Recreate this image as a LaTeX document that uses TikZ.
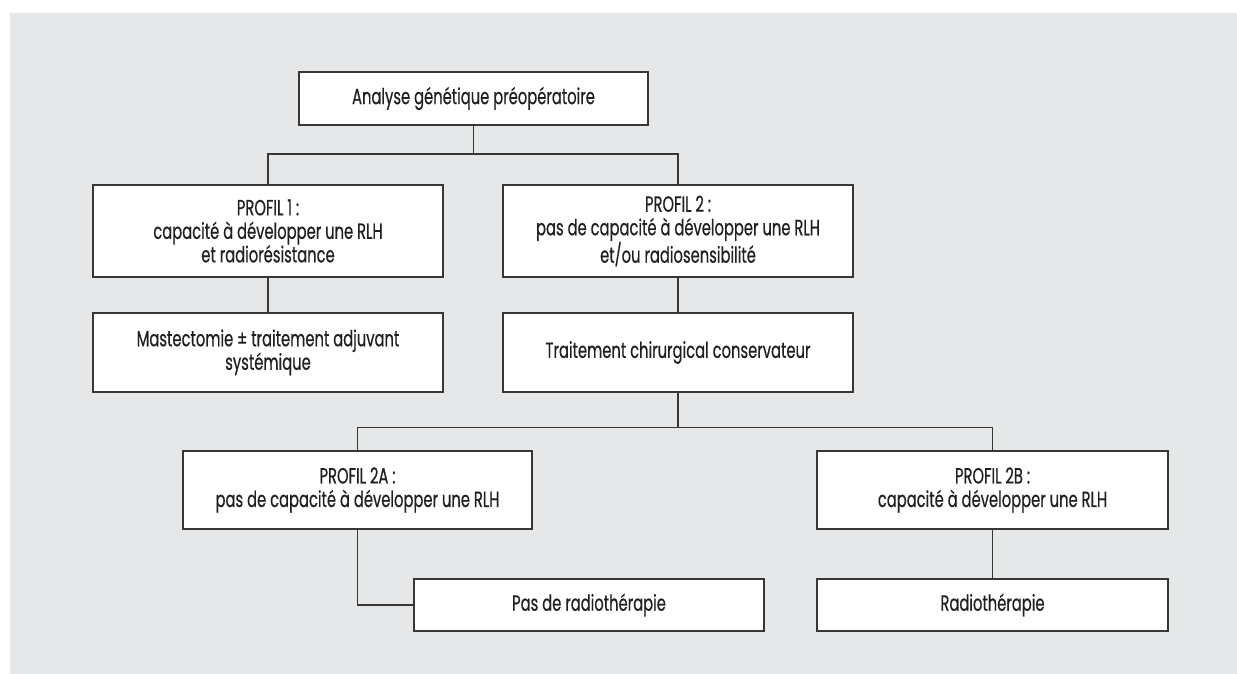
\documentclass[tikz,border=0pt]{standalone}
\usepackage{fontspec}
\setmainfont{Poppins}[FakeStretch=0.67,FakeBold=0.5]
\definecolor{bgc}{RGB}{230,231,232}
\definecolor{linec}{RGB}{55,55,55}
\definecolor{txtc}{RGB}{35,31,32}
\begin{document}
\begin{tikzpicture}[x=1pt,y=-1pt,
  box/.style={draw=linec, fill=white, line width=1.1pt, minimum width=350pt, align=center,
    font=\fontsize{22}{23.5}\selectfont, text=txtc, inner sep=0pt},
  conn/.style={draw=linec, line width=1.1pt}]
\useasboundingbox (0,0) rectangle (1237,674);
\fill[bgc] (10,13) rectangle (1237,674);
\node[box, minimum width=349pt, minimum height=53pt] (top) at (473.5,98.5) {Analyse génétique préopératoire};
\node[box, minimum height=92pt] (p1) at (268,231) {PROFIL 1 :\\capacité à développer une RLH\\et radiorésistance};
\node[box, minimum height=79pt] (m) at (268,352.5) {Mastectomie ± traitement adjuvant\\systémique};
\node[box, minimum height=92pt] (p2) at (678,231) {PROFIL 2 :\\pas de capacité à développer une RLH\\et/ou radiosensibilité};
\node[box, minimum height=79pt] (t) at (678,352.5) {Traitement chirurgical conservateur};
\node[box, minimum width=349pt, minimum height=78pt] (a2) at (357.5,490) {PROFIL 2A :\\pas de capacité à développer une RLH};
\node[box, minimum width=351pt, minimum height=78pt] (b2) at (992.5,490) {PROFIL 2B :\\capacité à développer une RLH};
\node[box, minimum height=52pt] (pas) at (589,605) {Pas de radiothérapie};
\node[box, minimum width=351pt, minimum height=52pt] (rad) at (992.5,605) {Radiothérapie};
\coordinate (h1) at (0,154);
\coordinate (h2) at (0,427.5);
\draw[conn] (top.south) -- (top.south |- h1) -| (p1.north);
\draw[conn] (top.south |- h1) -| (p2.north);
\draw[conn] (p1.south) -- (m.north);
\draw[conn] (p2.south) -- (t.north);
\draw[conn] (t.south) -- (t.south |- h2) -| (a2.north);
\draw[conn] (t.south |- h2) -| (b2.north);
\draw[conn] (a2.south) |- (pas.west);
\draw[conn] (b2.south) -- (rad.north);
\end{tikzpicture}
\end{document}
